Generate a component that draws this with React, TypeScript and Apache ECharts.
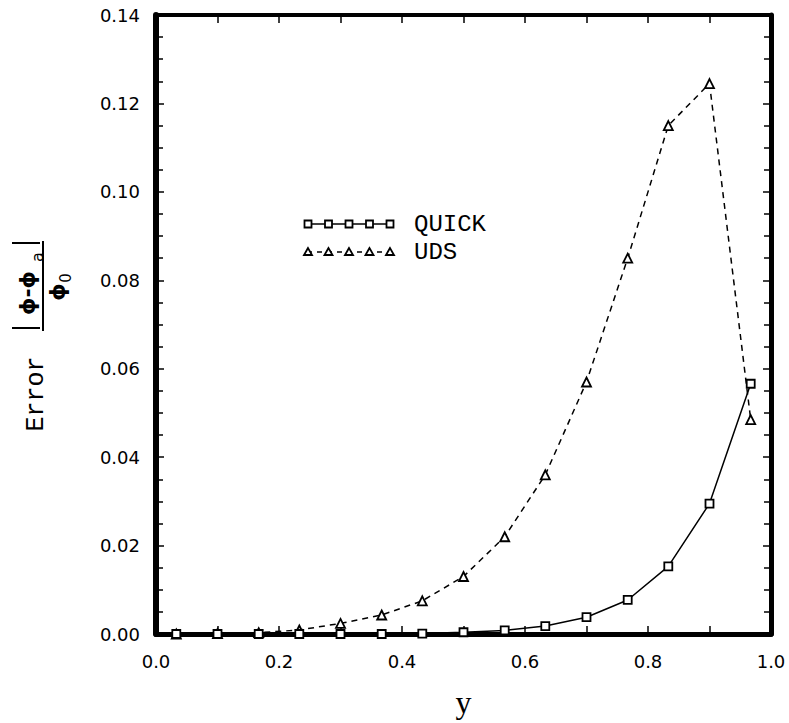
import React, { useEffect, useRef } from "react";
import * as echarts from "echarts";

const yPositions = [0.033, 0.1, 0.167, 0.233, 0.3, 0.367, 0.433, 0.5, 0.567, 0.633, 0.7, 0.767, 0.833, 0.9, 0.967];
const quickError = [0, 0, 0, 0, 0, 0, 0.0001, 0.0004, 0.0008, 0.0018, 0.0038, 0.0077, 0.0153, 0.0295, 0.0566];
const udsError = [0, 0.0001, 0.0003, 0.0009, 0.0024, 0.0043, 0.0075, 0.013, 0.022, 0.036, 0.057, 0.085, 0.115, 0.1245, 0.0485];
const seriesNames = ["QUICK", "UDS"];

const MONO = "'Liberation Mono', 'Courier New', monospace";
const SANS = "'DejaVu Sans', sans-serif";

export default function App() {
  const ref = useRef<HTMLDivElement>(null);
  useEffect(() => {
    if (!ref.current) return;
    const chart = echarts.init(ref.current, undefined, { renderer: "svg" });
    const pairs = (vals: number[]) => yPositions.map((x, i) => [x, vals[i]]);
    const tickBase = {
      axisTick: { show: true, inside: true, length: 8, lineStyle: { color: "#000", width: 1.5 } },
      minorTick: { show: true, length: 8, lineStyle: { color: "#000", width: 1.5 } },
      splitLine: { show: false },
      minorSplitLine: { show: false },
    };
    const legendMarkers: any[] = [];
    for (let k = 0; k < 5; k++) {
      const cx = 308 + k * 20.5;
      legendMarkers.push({
        type: "rect",
        shape: { x: cx - 3.5, y: 224 - 3.5, width: 7, height: 7 },
        style: { fill: "#fff", stroke: "#000", lineWidth: 1.8 },
        z: 10,
      });
      legendMarkers.push({
        type: "polygon",
        shape: { points: [[cx, 248], [cx - 4, 255], [cx + 4, 255]] },
        style: { fill: "#fff", stroke: "#000", lineWidth: 1.8 },
        z: 10,
      });
    }
    chart.setOption({
      animation: false,
      backgroundColor: "#fff",
      grid: { left: 156, right: 18, top: 15, bottom: 89 },
      xAxis: [
        {
          type: "value",
          min: 0,
          max: 1,
          interval: 0.2,
          position: "bottom",
          name: "y",
          nameLocation: "middle",
          nameGap: 52,
          nameTextStyle: { fontFamily: "'Liberation Serif', serif", fontSize: 32, color: "#000" },
          axisLine: { show: true, onZero: false, lineStyle: { color: "#000", width: 5 } },
          axisLabel: { margin: 18, fontFamily: SANS, fontSize: 18, color: "#000", formatter: (v: number) => v.toFixed(1) },
          ...tickBase,
          minorTick: { ...tickBase.minorTick, splitNumber: 2 },
        },
        {
          type: "value",
          min: 0,
          max: 1,
          interval: 0.2,
          position: "top",
          axisLine: { show: true, onZero: false, lineStyle: { color: "#000", width: 4 } },
          axisLabel: { show: false },
          ...tickBase,
          minorTick: { ...tickBase.minorTick, splitNumber: 2 },
        },
      ],
      yAxis: [
        {
          type: "value",
          min: 0,
          max: 0.14,
          interval: 0.02,
          position: "left",
          axisLine: { show: true, onZero: false, lineStyle: { color: "#000", width: 6 } },
          axisLabel: { margin: 16, fontFamily: SANS, fontSize: 18, color: "#000", formatter: (v: number) => v.toFixed(2) },
          ...tickBase,
          minorTick: { ...tickBase.minorTick, splitNumber: 4, length: 7 },
        },
        {
          type: "value",
          min: 0,
          max: 0.14,
          interval: 0.02,
          position: "right",
          axisLine: { show: true, onZero: false, lineStyle: { color: "#000", width: 5 } },
          axisLabel: { show: false },
          ...tickBase,
          minorTick: { ...tickBase.minorTick, splitNumber: 4, length: 7 },
        },
      ],
      series: [
        {
          name: seriesNames[0],
          type: "line",
          data: pairs(quickError),
          symbol: "rect",
          symbolSize: 8,
          showAllSymbol: true,
          lineStyle: { color: "#000", width: 1.5, type: "solid" },
          itemStyle: { color: "#fff", borderColor: "#000", borderWidth: 1.8 },
          z: 3,
        },
        {
          name: seriesNames[1],
          type: "line",
          data: pairs(udsError),
          symbol: "triangle",
          symbolSize: 9,
          showAllSymbol: true,
          lineStyle: { color: "#000", width: 1.5, type: [6, 5] },
          itemStyle: { color: "#fff", borderColor: "#000", borderWidth: 1.8 },
          z: 2,
        },
      ],
      graphic: [
        { type: "line", shape: { x1: 307, y1: 224, x2: 390, y2: 224 }, style: { stroke: "#000", lineWidth: 1.5 }, z: 9 },
        { type: "line", shape: { x1: 307, y1: 252, x2: 390, y2: 252 }, style: { stroke: "#000", lineWidth: 1.5, lineDash: [5, 5] }, z: 9 },
        ...legendMarkers,
        { type: "text", x: 414, y: 224, style: { text: seriesNames[0], fontFamily: MONO, fontSize: 24, fill: "#000", align: "left", verticalAlign: "middle" }, z: 10 },
        { type: "text", x: 414, y: 252, style: { text: seriesNames[1], fontFamily: MONO, fontSize: 24, fill: "#000", align: "left", verticalAlign: "middle" }, z: 10 },
        // y-axis label: Error |φ-φa| / φ0
        { type: "text", x: 36, y: 394, rotation: Math.PI / 2, style: { text: "Error", fontFamily: MONO, fontSize: 25, fill: "#000", align: "center", verticalAlign: "middle" } },
        { type: "line", shape: { x1: 12, y1: 243, x2: 40, y2: 243 }, style: { stroke: "#000", lineWidth: 2 } },
        { type: "line", shape: { x1: 12, y1: 328, x2: 40, y2: 328 }, style: { stroke: "#000", lineWidth: 2 } },
        { type: "text", x: 27, y: 293, rotation: Math.PI / 2, style: { text: "ϕ-ϕ", fontFamily: SANS, fontSize: 22, fontWeight: "bold", fill: "#000", align: "center", verticalAlign: "middle" } },
        { type: "text", x: 37, y: 257, rotation: Math.PI / 2, style: { text: "a", fontFamily: SANS, fontSize: 16, fill: "#000", align: "center", verticalAlign: "middle" } },
        { type: "line", shape: { x1: 43, y1: 241, x2: 43, y2: 331 }, style: { stroke: "#000", lineWidth: 2 } },
        { type: "text", x: 57, y: 292, rotation: Math.PI / 2, style: { text: "ϕ", fontFamily: SANS, fontSize: 22, fontWeight: "bold", fill: "#000", align: "center", verticalAlign: "middle" } },
        { type: "text", x: 66, y: 278, rotation: Math.PI / 2, style: { text: "0", fontFamily: SANS, fontSize: 15, fill: "#000", align: "center", verticalAlign: "middle" } },
      ],
    });
    return () => chart.dispose();
  }, []);
  return <div ref={ref} style={{ width: 789, height: 723, position: "absolute", left: 0, top: 0 }} />;
}
